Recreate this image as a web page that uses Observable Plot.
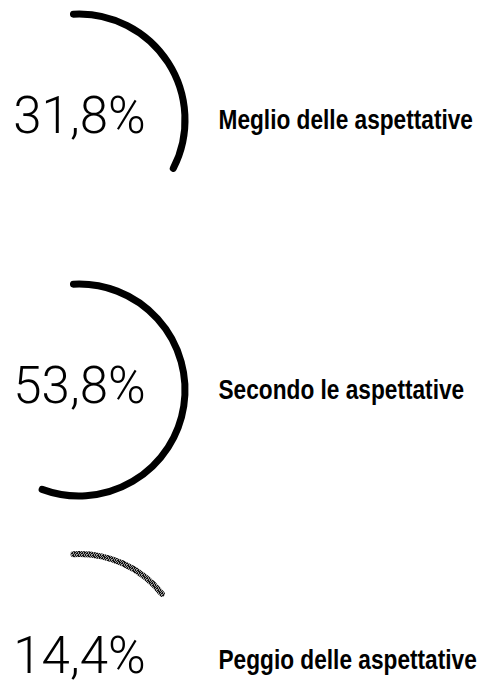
<!DOCTYPE html>
<html><head><meta charset="utf-8">
<script src="https://cdn.jsdelivr.net/npm/d3@7"></script>
<script src="https://cdn.jsdelivr.net/npm/@observablehq/plot@0.6"></script>
<style>body{margin:0;background:#fff}svg{display:block}</style>
</head><body><div id="chart"></div>
<script>
const categories = ["Meglio delle aspettative", "Secondo le aspettative", "Peggio delle aspettative"];
const values = [31.8, 53.8, 14.4];
const valueLabels = ["31,8%", "53,8%", "14,4%"];

const data = categories.map((c, i) => ({category: c, value: values[i], label: valueLabels[i]}));

const CX = 79, R = 106;
const angle = d3.scaleLinear().domain([0, 100]).range([0, 2 * Math.PI * 1.05]);
const start = -3 * Math.PI / 180;

const arcMark = (index, scales, vals, dimensions, context) => {
  const g = d3.create("svg:g");
  const cx = dimensions.marginLeft + CX;
  for (const d of data) {
    const cy = scales.y(d.category);
    const a0 = start, a1 = start + angle(d.value);
    const p = d3.path();
    p.moveTo(cx + R * Math.sin(a0), cy - R * Math.cos(a0));
    p.arc(cx, cy, R, a0 - Math.PI / 2, a1 - Math.PI / 2, false);
    const worse = d.category === "Peggio delle aspettative";
    g.append("path")
      .attr("d", p.toString())
      .attr("fill", "none")
      .attr("stroke", worse ? "url(#dither)" : "#000")
      .attr("stroke-width", worse ? 6 : 7)
      .attr("stroke-linecap", "round");
  }
  return g.node();
};

const chart = Plot.plot({
  width: 479,
  height: 684,
  marginTop: 119,
  marginBottom: 24,
  marginLeft: 0,
  marginRight: 0,
  y: {type: "point", domain: categories, axis: null, padding: 0},
  marks: [
    arcMark,
    Plot.text(data, {
      y: "category", text: "label", frameAnchor: "left", dx: CX, dy: -4,
      textAnchor: "middle", lineAnchor: "middle",
      fontFamily: "Roboto", fontWeight: 300, fontSize: 51, fill: "#000"
    }),
    Plot.text(data, {
      y: "category", text: "category", frameAnchor: "left", dx: 218, dy: 0,
      textAnchor: "start", lineAnchor: "middle",
      fontFamily: "Liberation Sans", fontWeight: 700, fontSize: 27, fill: "#000",
      className: "cat-label"
    })
  ]
});

const defs = d3.select(chart).insert("defs", ":first-child");
const pat = defs.append("pattern").attr("id", "dither")
  .attr("width", 5).attr("height", 5).attr("patternUnits", "userSpaceOnUse");
pat.append("rect").attr("width", 5).attr("height", 5).attr("fill", "#999");
[[0,0],[2,0],[3,0],[1,1],[3,1],[4,1],[0,2],[2,2],[4,2],[1,3],[2,3],[4,3],[0,4],[3,4]].forEach(([x, y]) =>
  pat.append("rect").attr("x", x).attr("y", y).attr("width", 1).attr("height", 1).attr("fill", "#111"));

document.getElementById("chart").append(chart);

// condense the category labels horizontally (scale about their left anchor)
d3.select(chart).selectAll("g.cat-label text").each(function () {
  const t = d3.select(this);
  t.attr("transform", (t.attr("transform") || "") + " scale(0.84,1)");
});
</script>
</body></html>
